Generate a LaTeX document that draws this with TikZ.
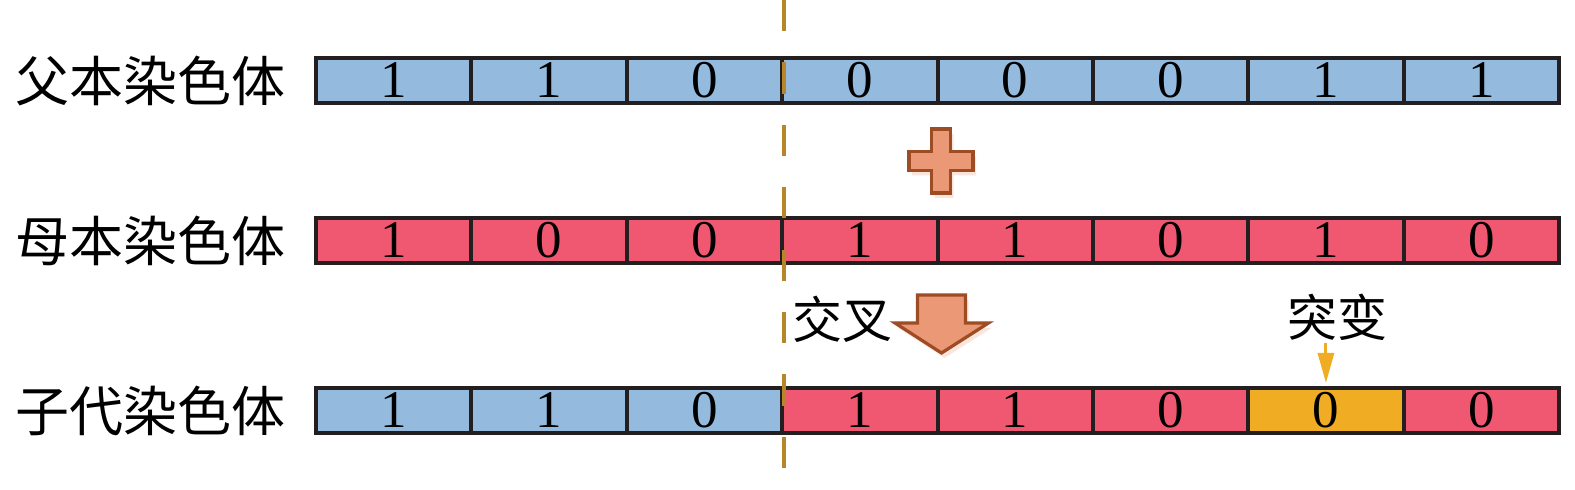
\documentclass[tikz,border=0pt]{standalone}
\usepackage{fontspec}
\setmainfont{Liberation Serif}
\newfontfamily\cjk{Noto Sans CJK SC}
\usetikzlibrary{arrows.meta,positioning,calc,shadows}
\definecolor{fuBlue}{RGB}{148,186,222}
\definecolor{muRed}{RGB}{240,88,114}
\definecolor{tuOrange}{RGB}{240,172,34}
\definecolor{cutGold}{RGB}{184,134,42}
\definecolor{blkSalmon}{RGB}{235,152,118}
\definecolor{blkBrown}{RGB}{158,76,36}
\definecolor{cellLine}{RGB}{35,31,32}

\begin{document}
\begin{tikzpicture}[x=1pt,y=1pt,
  cell/.style={draw=cellLine,line width=4pt,minimum width=155.375pt,minimum height=45pt,
    inner sep=0pt,font=\fontsize{53}{53}\selectfont},
  lbl/.style={inner sep=0pt,font=\fontsize{54}{54}\selectfont\cjk},
  tag/.style={inner sep=0pt,font=\fontsize{50}{50}\selectfont\cjk},
  cut/.style={draw=cutGold,line width=4pt,dash pattern=on 31.2pt off 31.2pt},
  blk/.style={fill=blkSalmon,draw=blkBrown,line width=3.2pt,line join=miter,
    drop shadow={shadow xshift=3pt,shadow yshift=-5pt,fill=blkSalmon,opacity=0.25}},
  mut/.style={draw=tuOrange,line width=3pt,-{Triangle[length=30pt,width=16pt]},shorten >=3pt}]
  \useasboundingbox (0,0) rectangle (1575,490);
  % three chromosomes, eight genes each
  \foreach \b [count=\i] in {1,1,0,0,0,0,1,1}
    \node[cell,fill=fuBlue] (f\i) at ({316+(\i-0.5)*155.375},409.5) {\b};
  \foreach \b [count=\i] in {1,0,0,1,1,0,1,0}
    \node[cell,fill=muRed] (m\i) at ({316+(\i-0.5)*155.375},249.5) {\b};
  \foreach \b/\c [count=\i] in {1/fuBlue,1/fuBlue,0/fuBlue,1/muRed,1/muRed,0/muRed,0/tuOrange,0/muRed}
    \node[cell,fill=\c] (t\i) at ({316+(\i-0.5)*155.375},79.5) {\b};
  \node[lbl,left=28pt of f1] (fL) {父本染色体};
  \node[lbl,left=28pt of m1] (mL) {母本染色体};
  \node[lbl,left=28pt of t1] (tL) {子代染色体};
  % crossover point
  \coordinate (cutTop) at (f3.east |- 0,490);
  \coordinate (cutBot) at (f3.east |- 0,22);
  \draw[cut] (cutTop) -- (cutBot);
  % plus sign and crossover block arrow
  \coordinate (plusC) at (941,329);
  \path[blk] ($(plusC)+(-9.5,32)$) -- ++(19,0) -- ++(0,-22.5) -- ++(22.5,0) -- ++(0,-19)
    -- ++(-22.5,0) -- ++(0,-22.5) -- ++(-19,0) -- ++(0,22.5) -- ++(-22.5,0) -- ++(0,19)
    -- ++(22.5,0) -- cycle;
  \coordinate (xArr) at (941.5,195);
  \path[blk] ($(xArr)+(-24,0)$) -- ++(48,0) -- ++(0,-28) -- ++(23,0) -- ($(xArr)+(0,-58)$)
    -- ($(xArr)+(-46.5,-28)$) -- ++(22.5,0) -- cycle;
  \node[tag] (xLbl) at (842,171) {交叉};
  % mutation
  \node[tag] (mLbl) at (1337,173) {突变};
  \coordinate (mutTop) at (t7.north |- 0,147);
  \draw[mut] (mutTop) -- (t7.north);
\end{tikzpicture}
\end{document}
